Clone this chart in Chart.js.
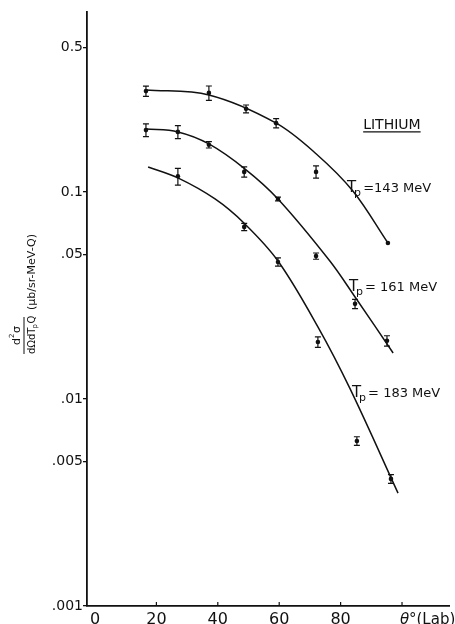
<!DOCTYPE html>
<html>
<head>
<meta charset="utf-8">
<script src="https://cdn.jsdelivr.net/npm/chart.js@4"></script>
<style>
  html, body { margin: 0; padding: 0; background: #fff; }
  canvas { display: block; }
</style>
</head>
<body>
<canvas id="grafico" width="455" height="624"></canvas>
<script>
// measured points (angle in degrees, cross section)
const angles143 = [16.6, 37.1, 49.2, 59.0, 72.0, 95.4];
const values143 = [0.307, 0.301, 0.252, 0.215, 0.125, 0.0567];
const errors143 = [0.0175, 0.024, 0.011, 0.011, 0.0085, 0];

const angles161 = [16.6, 27.0, 37.1, 48.6, 59.6, 72.0, 84.7, 95.1];
const values161 = [0.199, 0.195, 0.169, 0.125, 0.0925, 0.049, 0.0288, 0.0191];
const errors161 = [0.014, 0.014, 0.006, 0.0072, 0.002, 0.0017, 0.0015, 0.0011];

const angles183 = [27.0, 48.6, 59.6, 72.6, 85.3, 96.4];
const values183 = [0.119, 0.0678, 0.0459, 0.01885, 0.00627, 0.00411];
const errors183 = [0.011, 0.0027, 0.0021, 0.0011, 0.0003, 0.0002];

// fitted curves
const curveAngles143 = [16.6, 37.1, 59.0, 72.0, 84.0, 95.4];
const curveValues143 = [0.311, 0.294, 0.215, 0.153, 0.101, 0.0567];

const curveAngles161 = [16.6, 27.0, 37.1, 48.9, 59.6, 76.5, 84.7, 97.1];
const curveValues161 = [0.2015, 0.195, 0.1706, 0.129, 0.0925, 0.0464, 0.0311, 0.01668];

const curveAngles183 = [17.3, 27.0, 39.1, 48.5, 59.6, 72.6, 83.1, 98.7];
const curveValues183 = [0.1321, 0.1169, 0.0925, 0.0708, 0.0464, 0.0223, 0.01118, 0.00351];

const xTicks = [0, 20, 40, 60, 80, 100];
const xTickLabels = ["0", "20", "40", "60", "80", ""];
const yTicks = [0.001, 0.005, 0.01, 0.05, 0.1, 0.5];
const yTickLabels = [".001", ".005", ".01", ".05", "0.1", "0.5"];

const energyLabels = ["143 MeV", "161 MeV", "183 MeV"];
const energyLabelAngles = [82.1, 82.7, 83.7];
const energyLabelValues = [0.1057, 0.0351, 0.0108];

function punti(xs, ys) {
    return xs.map((x, i) => ({ x: x, y: ys[i] }));
}

function curva(xs, ys) {
    return {
        data: punti(xs, ys),
        showLine: true,
        borderColor: "#111",
        borderWidth: 1.5,
        pointRadius: 0,
        tension: 0.35,
        fill: false
    };
}

function misure(xs, ys, errs) {
    return {
        data: punti(xs, ys),
        errori: errs,
        showLine: false,
        pointRadius: 2.3,
        pointBackgroundColor: "#111",
        pointBorderColor: "#111",
        pointBorderWidth: 0
    };
}

const FONT = "'DejaVu Sans', sans-serif";

const barreErrore = {
    id: "barreErrore",
    afterDatasetsDraw(chart) {
        const ctx = chart.ctx;
        const sx = chart.scales.x;
        const sy = chart.scales.y;
        ctx.save();
        ctx.strokeStyle = "#111";
        ctx.lineWidth = 1.2;
        chart.data.datasets.forEach((ds) => {
            if (!ds.errori) return;
            ds.data.forEach((p, i) => {
                const e = ds.errori[i];
                if (!e) return;
                const x = sx.getPixelForValue(p.x);
                const y1 = sy.getPixelForValue(p.y + e);
                const y2 = sy.getPixelForValue(p.y - e);
                ctx.beginPath();
                ctx.moveTo(x, y1); ctx.lineTo(x, y2);
                ctx.moveTo(x - 3, y1); ctx.lineTo(x + 3, y1);
                ctx.moveTo(x - 3, y2); ctx.lineTo(x + 3, y2);
                ctx.stroke();
            });
        });
        ctx.restore();
    }
};

const testi = {
    id: "testi",
    afterDraw(chart) {
        const ctx = chart.ctx;
        const sx = chart.scales.x;
        const sy = chart.scales.y;
        ctx.save();
        ctx.fillStyle = "#111";
        ctx.strokeStyle = "#111";
        ctx.textBaseline = "alphabetic";

        // inward x ticks
        ctx.lineWidth = 1.2;
        xTicks.slice(1).forEach((v) => {
            const x = sx.getPixelForValue(v);
            ctx.beginPath();
            ctx.moveTo(x, sy.bottom);
            ctx.lineTo(x, sy.bottom - 4);
            ctx.stroke();
        });

        // axis title on x
        ctx.font = "italic 15px " + FONT;
        ctx.textAlign = "left";
        ctx.fillText("θ", sx.getPixelForValue(100) - 2, 624);
        ctx.font = "15px " + FONT;
        ctx.fillText("°(Lab)", sx.getPixelForValue(100) + 7, 624);

        // energy labels
        energyLabels.forEach((t, i) => {
            const x = sx.getPixelForValue(energyLabelAngles[i]);
            const y = sy.getPixelForValue(energyLabelValues[i]) + 5;
            ctx.font = "15px " + FONT;
            ctx.fillText("T", x, y);
            ctx.font = "11px " + FONT;
            ctx.fillText("p", x + 7, y + 4);
            ctx.font = "13px " + FONT;
            ctx.fillText((i === 0 ? " =" : " = ") + t, x + 12, y);
        });

        // LITHIUM
        ctx.font = "14px " + FONT;
        ctx.textAlign = "center";
        const lx = sx.getPixelForValue(96.7);
        const ly = sy.getPixelForValue(0.213) + 5;
        ctx.fillText("LITHIUM", lx, ly);
        const w = ctx.measureText("LITHIUM").width;
        ctx.lineWidth = 1.3;
        ctx.beginPath();
        ctx.moveTo(lx - w / 2, ly + 3);
        ctx.lineTo(lx + w / 2, ly + 3);
        ctx.stroke();

        // y axis title, rotated
        ctx.translate(0, 354);
        ctx.rotate(-Math.PI / 2);
        ctx.textAlign = "left";
        ctx.font = "11px " + FONT;
        ctx.fillText("d", 9, 20);
        ctx.font = "7px " + FONT;
        ctx.fillText("2", 16, 14);
        ctx.font = "11px " + FONT;
        ctx.fillText("σ", 21, 20);
        ctx.lineWidth = 1;
        ctx.beginPath();
        ctx.moveTo(0, 24);
        ctx.lineTo(37, 24);
        ctx.stroke();
        ctx.font = "10px " + FONT;
        ctx.fillText("dΩdT", 0, 35);
        const wd = ctx.measureText("dΩdT").width;
        ctx.font = "7px " + FONT;
        ctx.fillText("p", wd - 1, 37);
        ctx.font = "10px " + FONT;
        ctx.fillText("Q", wd + 4, 35);
        ctx.font = "11px " + FONT;
        ctx.fillText("(μb/sr-MeV-Q)", 44, 35);
        ctx.restore();
    }
};

const ctx = document.getElementById("grafico").getContext("2d");

new Chart(ctx, {
    type: "scatter",
    data: {
        datasets: [
            curva(curveAngles143, curveValues143),
            curva(curveAngles161, curveValues161),
            curva(curveAngles183, curveValues183),
            misure(angles143, values143, errors143),
            misure(angles161, values161, errors161),
            misure(angles183, values183, errors183)
        ]
    },
    options: {
        responsive: false,
        animation: false,
        devicePixelRatio: 1,
        layout: { padding: { top: 12, right: 6, left: 0, bottom: 0 } },
        plugins: {
            legend: { display: false },
            tooltip: { enabled: false },
            title: { display: false }
        },
        scales: {
            x: {
                type: "linear",
                min: -2.6,
                max: 115.3,
                afterBuildTicks: (s) => { s.ticks = xTicks.map((v) => ({ value: v })); },
                afterFit: (s) => { s.height = 18; },
                ticks: {
                    color: "#111",
                    padding: 4,
                    maxRotation: 0,
                    font: { family: FONT, size: 16 },
                    callback: (v) => {
                        const i = xTicks.indexOf(v);
                        return i >= 0 ? xTickLabels[i] : "";
                    }
                },
                grid: { display: true, drawOnChartArea: false, drawTicks: false },
                border: { color: "#111", width: 1.8 }
            },
            y: {
                type: "logarithmic",
                min: 0.001,
                max: 0.74,
                afterBuildTicks: (s) => { s.ticks = yTicks.map((v) => ({ value: v })); },
                afterFit: (s) => { s.width = 87; },
                ticks: {
                    color: "#111",
                    padding: 0,
                    font: { family: FONT, size: 14 },
                    callback: (v) => {
                        const i = yTicks.findIndex((t) => Math.abs(t - v) / t < 1e-6);
                        return i >= 0 ? yTickLabels[i] : "";
                    }
                },
                grid: { drawOnChartArea: false, drawTicks: true, tickLength: 4, color: "#111", lineWidth: 1.3 },
                border: { color: "#111", width: 1.8 }
            }
        }
    },
    plugins: [barreErrore, testi]
});
</script>
</body>
</html>
